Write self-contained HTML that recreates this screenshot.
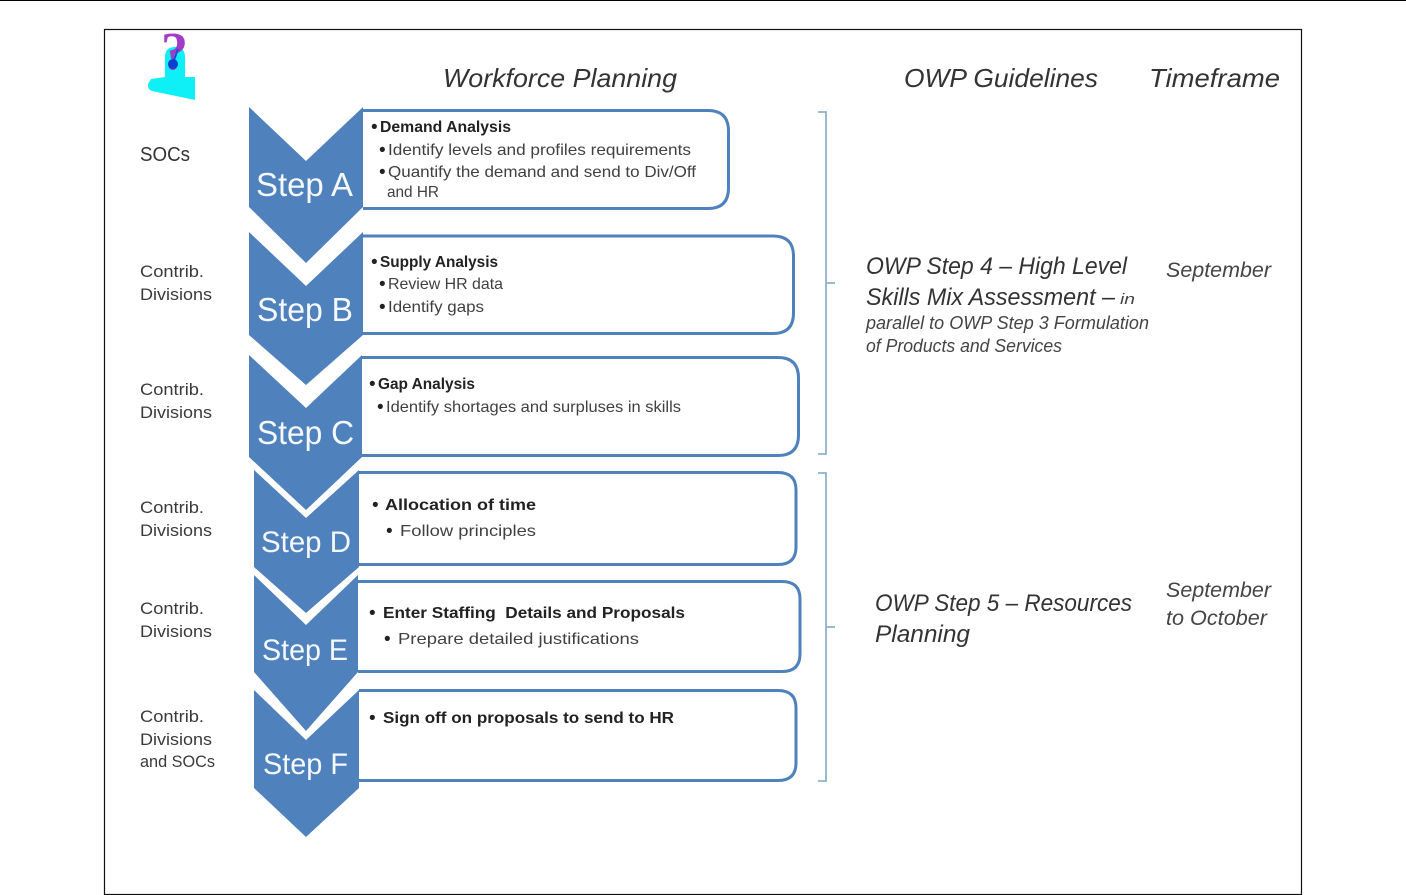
<!DOCTYPE html>
<html><head><meta charset="utf-8"><style>
html,body{margin:0;padding:0;background:#fff;width:1406px;height:895px;overflow:hidden}
svg{display:block}
text{font-family:"Liberation Sans",sans-serif;fill:#2a2a2a}
.l{font-size:17px;fill:#3a3a3a}
.s{font-size:33px;fill:#f4f8fc}
.h{font-size:26px;font-style:italic;fill:#333}
.g{font-size:24px;font-style:italic;fill:#333}
.t{font-size:21px;font-style:italic;fill:#444}
.m{font-size:18px;font-style:italic;fill:#444}
.b{font-size:16px;font-weight:bold;fill:#222}
.n{font-size:16px;fill:#404040}
.d{font-size:19px;fill:#222}
.soft{filter:blur(0.35px)}
</style></head><body>
<svg width="1406" height="895" viewBox="0 0 1406 895" xmlns="http://www.w3.org/2000/svg">
<rect width="1406" height="895" fill="#fff"/>
<rect x="0" y="0" width="1406" height="1" fill="#000"/>
<rect x="104.500" y="29.500" width="1197" height="865" fill="#fff" stroke="#111" stroke-width="1.200"/>

<!-- icon -->
<path d="M165 77 V57 Q165 47 175 47 Q185 47 185 57 V77 L195 77 V100 L152 91 Q147 89 148 84 L151 79 Z" fill="#0ff0f6"/>
<text x="161" y="69" style="font-family:'Liberation Serif',serif;font-weight:bold;font-size:54px;fill:#a03cc8">?</text>
<path d="M178 49 L174 60" stroke="#1a4fd0" stroke-width="2" fill="none"/>
<circle cx="173" cy="64" r="5" fill="#0a3fd0"/>

<!-- boxes -->
<g fill="#fff" stroke="#4f81bd" stroke-width="3">
<path d="M363 110.500 H708 Q728.500 110.500 728.500 131 V188 Q728.500 208.500 708 208.500 H363"/>
<path d="M363 236 H773 Q793.500 236 793.500 256 V313 Q793.500 333.500 773 333.500 H363"/>
<path d="M362 357.500 H778 Q798.500 357.500 798.500 378 V435 Q798.500 455.500 778 455.500 H362"/>
<path d="M359 472.500 H778 Q796 472.500 796 490 V547 Q796 564.500 778 564.500 H359"/>
<path d="M358 581.500 H782 Q800 581.500 800 599 V654 Q800 671.500 782 671.500 H358"/>
<path d="M359 690.500 H778 Q796 690.500 796 708 V763 Q796 780.500 778 780.500 H359"/>
</g>

<!-- chevrons -->
<g fill="#4f81bd">
<polygon points="249,107 306,161 363,107 363,207 306,263 249,207"/>
<polygon points="249,232 306,286 363,232 363,335 306,385 249,335"/>
<polygon points="249,355 306,408 362,355 362,457 306,510 249,457"/>
<polygon points="254,470 306,518 359,470 359,567 306,613 254,567"/>
<polygon points="254,575 306,625 358,575 358,672 306,731 254,672"/>
<polygon points="254,690 306,740 359,690 359,788 306,837 254,788"/>
</g>

<!-- brackets -->
<g fill="none" stroke="#8fb0cc" stroke-width="1.800">
<path d="M818 112 H826 V454 H818 M826 283 H835"/>
<path d="M818 473 H826 V781 H818 M826 627 H835"/>
</g>

<g class="soft">
<!-- headers -->
<text class="h" x="443" y="87" textLength="234" lengthAdjust="spacingAndGlyphs">Workforce Planning</text>
<text class="h" x="904" y="87" textLength="194" lengthAdjust="spacingAndGlyphs">OWP Guidelines</text>
<text class="h" x="1149" y="87" textLength="131" lengthAdjust="spacingAndGlyphs">Timeframe</text>

<!-- left labels -->
<text x="140" y="161" textLength="50" lengthAdjust="spacingAndGlyphs" style="font-size:20px;fill:#333">SOCs</text>
<text class="l" x="140" y="277" textLength="64" lengthAdjust="spacingAndGlyphs">Contrib.</text>
<text class="l" x="140" y="300" textLength="72" lengthAdjust="spacingAndGlyphs">Divisions</text>
<text class="l" x="140" y="395" textLength="64" lengthAdjust="spacingAndGlyphs">Contrib.</text>
<text class="l" x="140" y="418" textLength="72" lengthAdjust="spacingAndGlyphs">Divisions</text>
<text class="l" x="140" y="513" textLength="64" lengthAdjust="spacingAndGlyphs">Contrib.</text>
<text class="l" x="140" y="536" textLength="72" lengthAdjust="spacingAndGlyphs">Divisions</text>
<text class="l" x="140" y="614" textLength="64" lengthAdjust="spacingAndGlyphs">Contrib.</text>
<text class="l" x="140" y="637" textLength="72" lengthAdjust="spacingAndGlyphs">Divisions</text>
<text class="l" x="140" y="722" textLength="64" lengthAdjust="spacingAndGlyphs">Contrib.</text>
<text class="l" x="140" y="745" textLength="72" lengthAdjust="spacingAndGlyphs">Divisions</text>
<text class="l" x="140" y="767" textLength="75" lengthAdjust="spacingAndGlyphs" style="font-size:17px">and SOCs</text>

<!-- steps -->
<text class="s" x="256" y="196" textLength="97" lengthAdjust="spacingAndGlyphs">Step A</text>
<text class="s" x="257" y="321" textLength="96" lengthAdjust="spacingAndGlyphs">Step B</text>
<text class="s" x="257" y="444" textLength="97" lengthAdjust="spacingAndGlyphs">Step C</text>
<text class="s" x="261" y="552" style="font-size:30px" textLength="90" lengthAdjust="spacingAndGlyphs">Step D</text>
<text class="s" x="262" y="660" style="font-size:30px" textLength="86" lengthAdjust="spacingAndGlyphs">Step E</text>
<text class="s" x="263" y="774" style="font-size:30px" textLength="85" lengthAdjust="spacingAndGlyphs">Step F</text>

<!-- box text -->
<text class="d" x="371" y="133">•</text><text class="b" x="380" y="132" textLength="131" lengthAdjust="spacingAndGlyphs">Demand Analysis</text>
<text class="d" x="379" y="156">•</text><text class="n" x="388" y="155" textLength="303" lengthAdjust="spacingAndGlyphs">Identify levels and profiles requirements</text>
<text class="d" x="379" y="178">•</text><text class="n" x="388" y="177" textLength="308" lengthAdjust="spacingAndGlyphs">Quantify the demand and send to Div/Off</text>
<text class="n" x="387" y="197" textLength="52" lengthAdjust="spacingAndGlyphs">and HR</text>

<text class="d" x="371" y="268">•</text><text class="b" x="380" y="267" textLength="118" lengthAdjust="spacingAndGlyphs">Supply Analysis</text>
<text class="d" x="379" y="290">•</text><text class="n" x="388" y="289" textLength="115" lengthAdjust="spacingAndGlyphs">Review HR data</text>
<text class="d" x="379" y="313">•</text><text class="n" x="388" y="312" textLength="96" lengthAdjust="spacingAndGlyphs">Identify gaps</text>

<text class="d" x="369" y="390">•</text><text class="b" x="378" y="389" textLength="97" lengthAdjust="spacingAndGlyphs">Gap Analysis</text>
<text class="d" x="377" y="413">•</text><text class="n" x="386" y="412" textLength="295" lengthAdjust="spacingAndGlyphs">Identify shortages and surpluses in skills</text>

<text class="d" x="372" y="511">•</text><text class="b" x="385" y="510" textLength="151" lengthAdjust="spacingAndGlyphs">Allocation of time</text>
<text class="d" x="386" y="537">•</text><text class="n" x="400" y="536" textLength="136" lengthAdjust="spacingAndGlyphs">Follow principles</text>

<text class="d" x="369" y="619">•</text><text class="b" x="383" y="618" xml:space="preserve" textLength="302" lengthAdjust="spacingAndGlyphs">Enter Staffing  Details and Proposals</text>
<text class="d" x="384" y="645">•</text><text class="n" x="398" y="644" textLength="241" lengthAdjust="spacingAndGlyphs">Prepare detailed justifications</text>

<text class="d" x="369" y="724">•</text><text class="b" x="383" y="723" textLength="291" lengthAdjust="spacingAndGlyphs">Sign off on proposals to send to HR</text>

<!-- guideline text -->
<text class="g" x="866" y="274" textLength="261" lengthAdjust="spacingAndGlyphs">OWP Step 4 – High Level</text>
<text class="g" x="866" y="305" textLength="249" lengthAdjust="spacingAndGlyphs">Skills Mix Assessment –</text>
<text class="m" x="1120" y="304" style="font-size:15px" textLength="15" lengthAdjust="spacingAndGlyphs">in</text>
<text class="m" x="866" y="329" textLength="283" lengthAdjust="spacingAndGlyphs">parallel to OWP Step 3 Formulation</text>
<text class="m" x="866" y="352" textLength="196" lengthAdjust="spacingAndGlyphs">of Products and Services</text>

<text class="g" x="875" y="611" textLength="257" lengthAdjust="spacingAndGlyphs">OWP Step 5 – Resources</text>
<text class="g" x="875" y="642" textLength="95" lengthAdjust="spacingAndGlyphs">Planning</text>

<text class="t" x="1166" y="277" textLength="105" lengthAdjust="spacingAndGlyphs">September</text>
<text class="t" x="1166" y="597" textLength="105" lengthAdjust="spacingAndGlyphs">September</text>
<text class="t" x="1166" y="625" textLength="101" lengthAdjust="spacingAndGlyphs">to October</text>
</g>
</svg>
</body></html>
